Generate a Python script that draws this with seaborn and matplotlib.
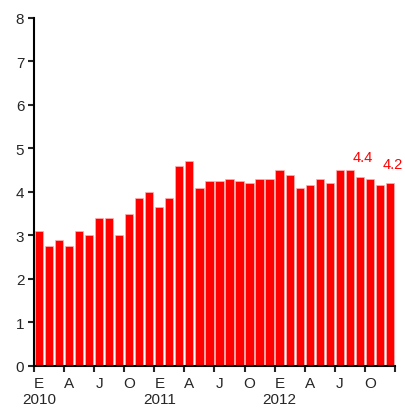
import pandas as pd
import matplotlib
matplotlib.use("Agg")
import matplotlib.pyplot as plt
import seaborn as sns

# monthly values, Jan 2010 - Dec 2012
months = [f"{y}-{m:02d}" for y in (2010, 2011, 2012) for m in range(1, 13)]
values = [3.1, 2.75, 2.9, 2.75, 3.1, 3.0, 3.4, 3.4, 3.0, 3.5, 3.85, 4.0,
          3.65, 3.85, 4.6, 4.7, 4.1, 4.25, 4.25, 4.3, 4.25, 4.2, 4.3, 4.3,
          4.5, 4.4, 4.1, 4.15, 4.3, 4.2, 4.5, 4.5, 4.35, 4.3, 4.15, 4.2]
quarter_letters = ["E", "A", "J", "O"]
years = ["2010", "2011", "2012"]
annotated = {32: "4.4", 35: "4.2"}

df = pd.DataFrame({"month": months, "value": values})

sns.set_style("ticks")
plt.rcParams["font.family"] = ["Liberation Sans", "DejaVu Sans"]

fig = plt.figure(figsize=(4.05, 4.1), dpi=100)
ax = fig.add_axes([0.084, 0.105, 0.891, 0.849])

sns.barplot(data=df, x="month", y="value", color="#ff0000", saturation=1,
            width=0.82, edgecolor="#ffb0b0", linewidth=0.5, ax=ax)

# value labels on selected bars
for i, txt in annotated.items():
    ax.text(i + 0.25, values[i] + 0.45, txt, color="#ff0000", fontsize=10.5,
            ha="center", va="center")

ax.set_xlim(-0.5, 35.5)
ax.set_ylim(0, 8)
ax.set_yticks(range(0, 9))
ax.tick_params(axis="y", labelsize=11, length=4, width=1.5, direction="out", pad=3)

# quarter boundaries as tick marks, labels under first month of each quarter
ax.set_xticks([i - 0.5 for i in range(0, 37, 3)], minor=True)
labels = []
for q in range(12):
    lab = quarter_letters[q % 4]
    if q % 4 == 0:
        lab += "\n" + years[q // 4]
    labels.append(lab)
ax.set_xticks(range(0, 36, 3))
ax.set_xticklabels(labels, fontsize=11, linespacing=1.25)
ax.tick_params(axis="x", which="major", length=0, pad=7)
ax.tick_params(axis="x", which="minor", length=4, width=1.5, direction="out")

ax.set_xlabel("")
ax.set_ylabel("")
for side in ("top", "right"):
    ax.spines[side].set_visible(False)
for side in ("left", "bottom"):
    ax.spines[side].set_linewidth(1.5)
    ax.spines[side].set_color("black")

fig.savefig("out.png", dpi=100)
plt.close(fig)
